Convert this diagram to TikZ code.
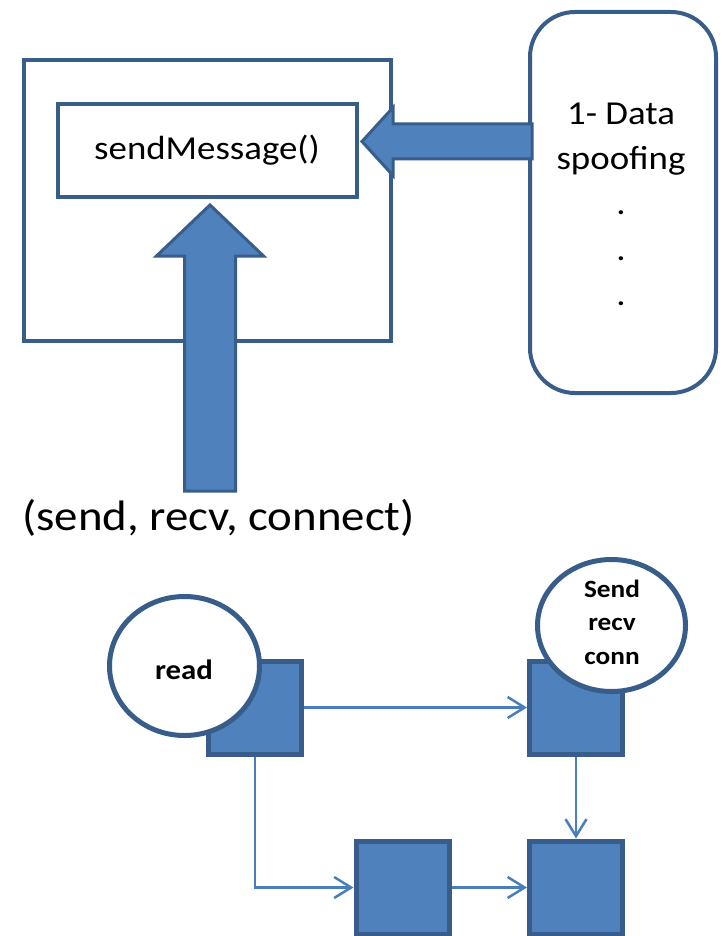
\documentclass[tikz,border=0pt]{standalone}
\usepackage{fontspec}
\setmainfont{Carlito}[FakeStretch=1.1]
\usetikzlibrary{shapes.geometric,arrows.meta,calc}
\definecolor{boxblue}{HTML}{4F81BD}
\definecolor{edgeblue}{HTML}{385D8A}
\definecolor{linkblue}{HTML}{4A7EBB}
\tikzset{
  frame/.style={draw=edgeblue, line width=4pt, fill=white, inner sep=0pt},
  blockarrow/.style={draw=edgeblue, line width=3pt, fill=boxblue, line join=miter},
  tile/.style={draw=edgeblue, fill=boxblue, line width=5pt, minimum width=93pt,
    minimum height=93pt, inner sep=0pt},
  bubble/.style={ellipse, draw=edgeblue, fill=white, line width=5pt, inner sep=0pt},
  link/.style={draw=linkblue, line width=2.5pt,
    -{Straight Barb[length=17pt,width=21pt,line join=miter]}},
  plaintext/.style={inner sep=0pt, anchor=base},
}
\begin{document}
\begin{tikzpicture}[x=1pt,y=-1pt]
\useasboundingbox (0,0) rectangle (723,936);

% --- upper part: component with its entry point ---
\node[frame, minimum width=367pt, minimum height=280.5pt] (module) at (207.5,200.75) {};
\node[frame, minimum width=299.5pt, minimum height=93pt] (msg) at (207.25,150.5) {};
\node[plaintext, font=\fontsize{33.5}{40}\selectfont] (msgtext) at (207,160) {sendMessage()};

% attack list
\node[draw=edgeblue, line width=4pt, fill=white, rounded corners=45pt,
      minimum width=186pt, minimum height=381pt, inner sep=0pt] (attacks) at (623,202.5) {};
\node[plaintext, font=\fontsize{33.5}{45}\selectfont] (attacktext) at (621,125)
  {\begin{tabular}[t]{@{}c@{}}1- Data\\spoofing\\.\\.\\.\end{tabular}};

% calls entering sendMessage()
\coordinate (uptip) at (210,205);
\draw[blockarrow] (uptip) -- (263.5,256) -- (235.5,256) -- (235.5,491)
  -- (184.5,491) -- (184.5,256) -- (156.5,256) -- cycle;
\node[plaintext, font=\fontsize{42.6}{50}\selectfont] (calls) at (218.5,530)
  {(send, recv, connect)};

% attacks hitting sendMessage()
\coordinate (lefttip) at (362,141.5);
\draw[blockarrow] (lefttip) -- (393,107.5) -- (393,124) -- (532,124)
  -- (532,159) -- (393,159) -- (393,175.5) -- cycle;

% --- lower part: call graph ---
\node[tile] (sqa) at (255,707.5) {};
\node[tile] (sqb) at (576,707.5) {};
\node[tile] (sqc) at (402.5,887.5) {};
\node[tile] (sqd) at (576,887.5) {};

\node[bubble, minimum width=150pt, minimum height=139pt] (readc) at (184.5,666) {};
\node[plaintext, font=\bfseries\fontsize{28}{34}\selectfont] (readtext) at (184,679) {read};

\node[bubble, minimum width=148pt, minimum height=132pt] (sendc) at (611.5,625.5) {};
\node[plaintext, font=\bfseries\fontsize{24.8}{33.5}\selectfont] (sendtext) at (612,597)
  {\begin{tabular}[t]{@{}c@{}}Send\\recv\\conn\end{tabular}};

\draw[link] (sqa.east) -- (sqb.west);
\draw[link] (sqa.south) |- (sqc.west);
\draw[link] (sqc.east) -- (sqd.west);
\draw[link] (sqb.south) -- (sqd.north);
\end{tikzpicture}
\end{document}
